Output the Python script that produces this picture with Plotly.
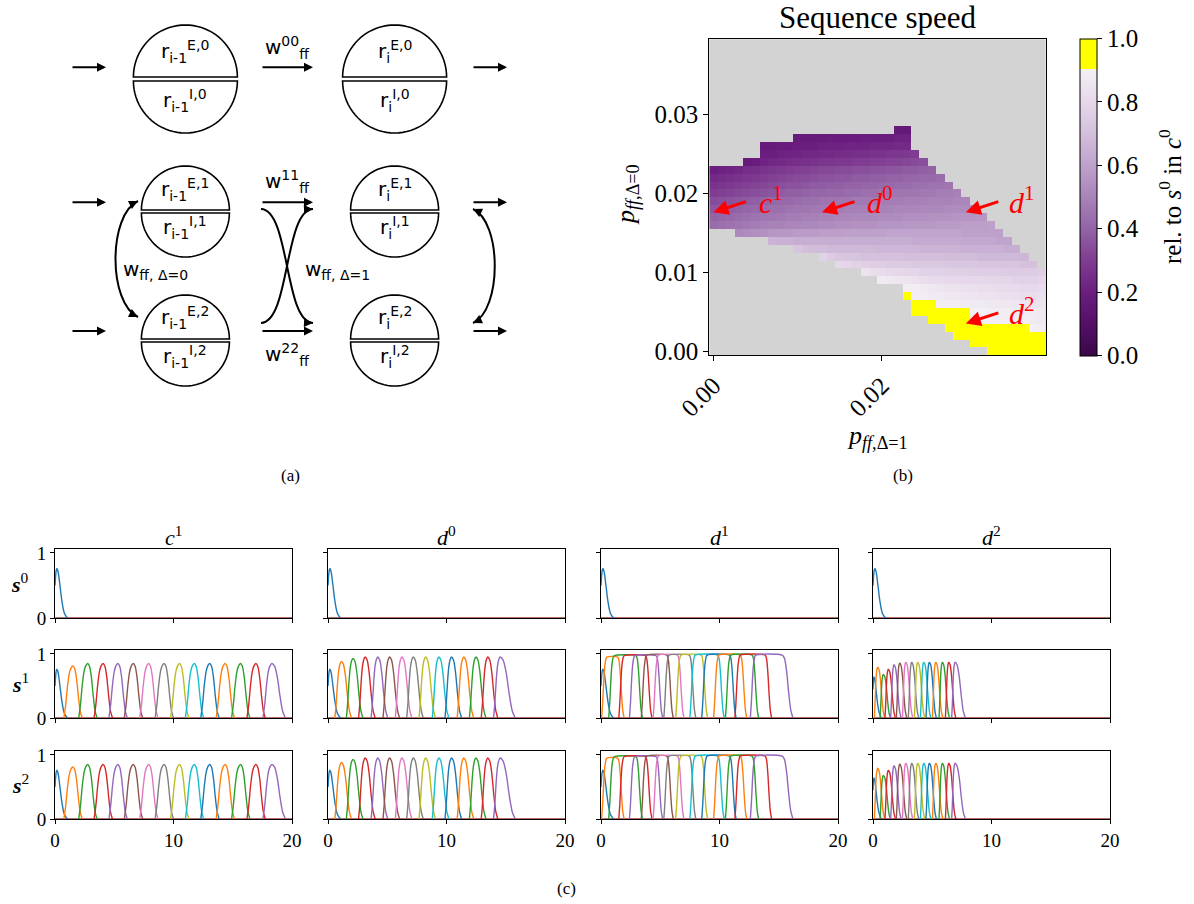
import plotly.graph_objects as go

W, H = 1194, 904
SERIF = "Liberation Serif"
SANS = "DejaVu Sans"
TAB10 = ['#1f77b4', '#ff7f0e', '#2ca02c', '#d62728', '#9467bd',
         '#8c564b', '#e377c2', '#7f7f7f', '#bcbd22', '#17becf']

# ---------------- (b) sequence speed map -----------------
GRID_N = 40          # 40 x 40 cells
GRID_STEP = 0.001    # p_ff step on both axes
# row index along p_ff,Δ=0 : (first column index along p_ff,Δ=1, values in % of s0 speed in c0)
SPEED_ROWS = {
    28: (22, [17, 17]),
    27: (10, [18, 18, 18, 18, 19, 19, 19, 19, 20, 20, 20, 20, 21, 21]),
    26: (6, [18, 18, 19, 19, 20, 20, 20, 21, 21, 21, 22, 22, 22, 23, 23, 23, 24, 24]),
    25: (6, [20, 20, 21, 22, 22, 23, 23, 24, 24, 25, 25, 26, 26, 27, 27, 28, 28, 29, 30]),
    24: (4, [18, 19, 22, 23, 24, 25, 26, 26, 27, 28, 28, 29, 29, 30, 30, 31, 31, 32, 32, 33, 34, 35]),
    23: (0, [20, 21, 22, 23, 25, 26, 27, 28, 29, 30, 31, 31, 32, 33, 33, 34, 34, 35, 35, 36, 36, 37, 37, 38, 38, 39, 40]),
    22: (0, [24, 25, 26, 27, 28, 29, 30, 31, 32, 33, 34, 34, 35, 36, 36, 37, 37, 38, 38, 39, 39, 40, 40, 41, 41, 42, 42, 43]),
    21: (0, [27, 28, 29, 30, 31, 32, 33, 34, 35, 36, 36, 37, 38, 38, 39, 39, 40, 40, 41, 41, 42, 42, 43, 43, 44, 44, 45, 45, 46]),
    20: (0, [30, 31, 32, 33, 34, 35, 36, 37, 38, 39, 39, 40, 41, 41, 42, 42, 43, 43, 44, 44, 45, 45, 46, 46, 46, 47, 47, 48, 48, 49]),
    19: (0, [34, 35, 36, 37, 38, 39, 40, 41, 42, 42, 43, 44, 44, 45, 45, 46, 46, 47, 47, 47, 48, 48, 48, 49, 49, 49, 50, 50, 50, 51, 51]),
    18: (0, [37, 38, 39, 40, 41, 42, 43, 44, 44, 45, 46, 46, 47, 47, 48, 48, 49, 49, 49, 50, 50, 50, 51, 51, 51, 52, 52, 52, 53, 53, 53, 54]),
    17: (0, [40, 41, 42, 43, 44, 45, 46, 46, 47, 48, 48, 49, 49, 50, 50, 51, 51, 52, 52, 52, 53, 53, 53, 54, 54, 54, 55, 55, 55, 56, 56, 56, 57]),
    16: (0, [43, 44, 45, 46, 47, 48, 49, 50, 50, 51, 51, 52, 52, 53, 53, 54, 54, 55, 55, 55, 56, 56, 56, 57, 57, 57, 57, 58, 58, 58, 59, 59, 59, 60]),
    15: (3, [52, 53, 54, 55, 56, 57, 57, 58, 58, 58, 59, 59, 59, 60, 60, 60, 60, 60, 61, 61, 61, 61, 61, 61, 61, 61, 61, 60, 60, 60, 60, 60]),
    14: (7, [66, 65, 65, 64, 64, 64, 64, 64, 64, 64, 64, 64, 64, 64, 64, 64, 64, 63, 63, 63, 63, 63, 63, 62, 62, 62, 62, 61, 61]),
    13: (10, [72, 70, 69, 69, 68, 68, 68, 68, 68, 68, 67, 67, 67, 67, 67, 66, 66, 66, 66, 66, 65, 65, 65, 65, 65, 64, 64]),
    12: (13, [78, 75, 73, 72, 72, 71, 71, 71, 71, 71, 70, 70, 70, 70, 70, 69, 69, 69, 69, 68, 68, 68, 68, 68, 67]),
    11: (15, [80, 79, 78, 77, 76, 76, 75, 75, 75, 74, 74, 74, 74, 73, 73, 73, 73, 72, 72, 72, 72, 72, 71, 71]),
    10: (18, [85, 83, 82, 81, 80, 79, 79, 78, 78, 78, 77, 77, 77, 76, 76, 76, 76, 75, 75, 75, 75, 76]),
    9: (20, [88, 87, 86, 85, 84, 83, 82, 82, 81, 81, 80, 80, 80, 79, 79, 79, 78, 78, 78, 79]),
    8: (23, [89, 89, 88, 87, 86, 85, 85, 84, 84, 83, 83, 82, 82, 82, 81, 81, 82]),
    7: (23, [100, 89, 89, 88, 88, 87, 87, 86, 86, 85, 85, 84, 84, 84, 83, 83, 84]),
    6: (24, [100, 100, 100, 89, 89, 89, 88, 88, 88, 87, 87, 87, 86, 86, 85, 85]),
    5: (24, [100, 100, 100, 100, 100, 100, 100, 90, 90, 89, 89, 89, 88, 88, 88, 87]),
    4: (26, [100, 100, 100, 100, 100, 90, 90, 90, 89, 89, 89, 89, 88, 87]),
    3: (28, [100, 100, 100, 100, 100, 100, 100, 100, 100, 100, 90, 89]),
    2: (29, [100, 100, 100, 100, 100, 100, 100, 100, 100, 100, 100]),
    1: (31, [100, 100, 100, 100, 100, 100, 100, 100, 100]),
    0: (33, [100, 100, 100, 100, 100, 100, 100]),
}
# marked parameter sets (p_ff,Δ=1 , p_ff,Δ=0)
MARK_NAMES = ['c1', 'd0', 'd1', 'd2']
MARK_X = [0.000, 0.0129, 0.030, 0.030]
MARK_Y = [0.0176, 0.0176, 0.0176, 0.0035]
MARK_TEXT = ['<i>c</i><sup>1</sup>', '<i>d</i><sup>0</sup>', '<i>d</i><sup>1</sup>', '<i>d</i><sup>2</sup>']

# ---------------- (c) activity traces -----------------
T_MAX = 20
# input (first) population
INPUT_T = [0.0, 0.05, 0.1, 0.16, 0.25, 0.35, 0.45, 0.6, 0.8, 1.05]
INPUT_V = [0.5, 0.64, 0.73, 0.76, 0.72, 0.6, 0.45, 0.24, 0.07, 0.0]
D2_INPUT_T = [0.0, 0.04, 0.08, 0.15, 0.25, 0.35, 0.5, 0.7]
D2_INPUT_V = [0.45, 0.6, 0.64, 0.6, 0.45, 0.28, 0.1, 0.0]
# shape of a rising / falling flank (fraction of flank time, fraction of height)
RISE_FRAC_T = [0.0, 0.2, 0.4, 0.6, 0.8, 1.0]
RISE_FRAC_V = [0.0, 0.25, 0.6, 0.85, 0.96, 1.0]
FALL_FRAC_T = [0.0, 0.2, 0.4, 0.6, 0.8, 1.0]
FALL_FRAC_V = [1.0, 0.95, 0.75, 0.4, 0.12, 0.0]

# populations 2..15: onset, top reached, top left, offset, height
C1_ON = [0.75, 2.0, 3.3, 4.55, 5.85, 7.15, 8.45, 9.75, 11.0, 12.3, 13.6, 14.9, 16.2, 17.55]
C1_UP = [1.5, 2.75, 4.05, 5.3, 6.6, 7.9, 9.2, 10.5, 11.75, 13.05, 14.35, 15.65, 16.95, 18.3]
C1_DOWN = C1_UP
C1_OFF = [2.3, 3.55, 4.85, 6.1, 7.4, 8.7, 10.0, 11.3, 12.55, 13.85, 15.15, 16.45, 17.75, 19.45]
C1_H = [0.81, 0.85, 0.85, 0.85, 0.85, 0.85, 0.85, 0.85, 0.85, 0.85, 0.85, 0.85, 0.85, 0.85]

D0_ON = [0.58, 1.55, 2.58, 3.64, 4.64, 5.68, 6.64, 7.68, 8.8, 9.87, 10.9, 11.93, 12.93, 13.97]
D0_UP = [1.13, 2.1, 3.13, 4.19, 5.19, 6.23, 7.19, 8.23, 9.35, 10.42, 11.45, 12.48, 13.48, 14.52]
D0_DOWN = D0_UP
D0_OFF = [1.98, 2.95, 3.98, 5.04, 6.04, 7.08, 8.04, 9.08, 10.2, 11.27, 12.3, 13.33, 14.33, 15.8]
D0_H = [0.88, 0.93, 0.95, 0.95, 0.95, 0.95, 0.95, 0.95, 0.95, 0.95, 0.95, 0.95, 0.95, 0.95]

D1_ON = [0.05, 0.65, 1.5, 2.4, 3.4, 4.4, 5.3, 6.3, 7.5, 8.5, 9.5, 10.5, 11.3, 12.6]
D1_UP = [0.5, 1.1, 1.95, 2.85, 3.85, 4.85, 5.75, 6.75, 7.95, 8.95, 9.95, 10.95, 11.75, 13.05]
D1_DOWN = [1.4, 2.95, 3.75, 4.65, 5.55, 6.45, 7.45, 8.45, 9.85, 10.85, 11.75, 12.75, 13.85, 15.3]
D1_OFF = [1.95, 3.5, 4.3, 5.2, 6.1, 7.0, 8.0, 9.0, 10.4, 11.4, 12.3, 13.3, 14.4, 16.2]
D1_H = [0.95, 0.97, 0.97, 0.97, 0.98, 0.98, 0.98, 0.98, 0.98, 0.98, 0.98, 0.98, 0.98, 0.98]

D2_ON = [0.11, 0.59, 1.01, 1.49, 1.97, 2.48, 2.98, 3.49, 4.0, 4.47, 5.01, 5.57, 6.11, 6.64]
D2_UP = [0.39, 0.87, 1.29, 1.77, 2.25, 2.76, 3.26, 3.77, 4.28, 4.75, 5.29, 5.85, 6.39, 6.92]
D2_DOWN = D2_UP
D2_OFF = [0.99, 1.47, 1.89, 2.37, 2.85, 3.36, 3.86, 4.37, 4.88, 5.35, 5.89, 6.45, 6.99, 7.8]
D2_H = [0.79, 0.68, 0.76, 0.83, 0.86, 0.87, 0.87, 0.87, 0.87, 0.87, 0.87, 0.87, 0.87, 0.87]

COND_TITLES = ['<i>c</i><sup>1</sup>', '<i>d</i><sup>0</sup>', '<i>d</i><sup>1</sup>', '<i>d</i><sup>2</sup>']
ROW_TITLES = ['<b><i>s</i></b><sup>0</sup>', '<b><i>s</i></b><sup>1</sup>', '<b><i>s</i></b><sup>2</sup>']
CONDS = [
    (INPUT_T, INPUT_V, C1_ON, C1_UP, C1_DOWN, C1_OFF, C1_H),
    (INPUT_T, INPUT_V, D0_ON, D0_UP, D0_DOWN, D0_OFF, D0_H),
    (INPUT_T, INPUT_V, D1_ON, D1_UP, D1_DOWN, D1_OFF, D1_H),
    (D2_INPUT_T, D2_INPUT_V, D2_ON, D2_UP, D2_DOWN, D2_OFF, D2_H),
]

# ---------------------------------------------------------------------------
def PX(x):
    return x / W


def PY(y):
    return 1 - y / H


def pulse_xy(on, up, down, off, h):
    xs, ys = [], []
    for ft, fv in zip(RISE_FRAC_T, RISE_FRAC_V):
        xs.append(on + ft * (up - on))
        ys.append(h * fv)
    for i, (ft, fv) in enumerate(zip(FALL_FRAC_T, FALL_FRAC_V)):
        if i == 0 and down <= up:
            continue
        xs.append(down + ft * (off - down))
        ys.append(h * fv)
    return xs, ys


fig = go.Figure()

# heat map
z = [[None] * GRID_N for _ in range(GRID_N)]
for j, (start, vals) in SPEED_ROWS.items():
    for k, v in enumerate(vals):
        z[j][start + k] = v / 100.0

CSCALE = [[0.0, '#3a0749'], [0.1, '#530f66'], [0.2, '#6b1e7f'], [0.3, '#7f3c91'],
          [0.4, '#9363a6'], [0.5, '#a883b8'], [0.6, '#bea1cb'], [0.7, '#d3bfdc'],
          [0.8, '#e6d7ea'], [0.905, '#f3f1f4'], [0.906, '#ffff00'], [1.0, '#ffff00']]

fig.add_trace(go.Heatmap(
    z=z, x0=0, dx=GRID_STEP, y0=0, dy=GRID_STEP, zmin=0, zmax=1,
    colorscale=CSCALE, xaxis='x', yaxis='y', hoverongaps=False,
    colorbar=dict(x=PX(1080), xanchor='left', y=PY(38.5), yanchor='top',
                  len=316.5 / H, lenmode='fraction', thickness=17,
                  xpad=0, ypad=0, outlinecolor='black', outlinewidth=1,
                  ticks='outside', ticklen=5, tickcolor='black',
                  tickvals=[0, 0.2, 0.4, 0.6, 0.8, 1.0],
                  ticktext=['0.0', '0.2', '0.4', '0.6', '0.8', '1.0'],
                  tickfont=dict(family=SERIF, size=25, color='black')),
))

# small multiples
COL_PX = [(55, 292), (328, 565), (601, 838), (873, 1110)]
ROW_PX = [(549, 618), (650, 718), (751, 819)]
layout_axes = {}
n = 2
for r, (ytop, ybot) in enumerate(ROW_PX):
    for c, (xl, xr) in enumerate(COL_PX):
        xa, ya = f'x{n}', f'y{n}'
        in_t, in_v, on, up, down, off, hh = CONDS[c]
        if r == 0:
            in_t, in_v = INPUT_T, INPUT_V
        # baseline of silent populations
        fig.add_trace(go.Scatter(x=[0, T_MAX], y=[0, 0], mode='lines',
                                 line=dict(color='#9d3c36', width=1.5),
                                 xaxis=xa, yaxis=ya, showlegend=False, hoverinfo='skip'))
        fig.add_trace(go.Scatter(x=in_t, y=in_v,
                                 mode='lines', line=dict(color=TAB10[0], width=1.4, shape='spline'),
                                 xaxis=xa, yaxis=ya, showlegend=False, hoverinfo='skip'))
        if r > 0:
            for k in range(len(on)):
                px_, py_ = pulse_xy(on[k], up[k], down[k], off[k], hh[k])
                fig.add_trace(go.Scatter(x=px_, y=py_, mode='lines',
                                         line=dict(color=TAB10[(k + 1) % 10], width=1.4,
                                                   shape='spline', smoothing=0.8),
                                         xaxis=xa, yaxis=ya, showlegend=False, hoverinfo='skip'))
        layout_axes['xaxis' + str(n)] = dict(
            domain=[PX(xl), PX(xr)], anchor=ya, range=[0, T_MAX], automargin=False,
            tickvals=[0, 10, 20], ticktext=['0', '10', '20'],
            showticklabels=(r == 2), ticks='outside', ticklen=4, tickcolor='black',
            showline=True, mirror=True, linecolor='black', linewidth=1,
            showgrid=False, zeroline=False,
            tickfont=dict(family=SERIF, size=19, color='black'))
        layout_axes['yaxis' + str(n)] = dict(
            domain=[PY(ybot), PY(ytop)], anchor=xa, range=[0, 1.06], automargin=False,
            tickvals=[0, 1], ticktext=['0', '1'],
            showticklabels=(c == 0), ticks='outside', ticklen=4, tickcolor='black',
            showline=True, mirror=True, linecolor='black', linewidth=1,
            showgrid=False, zeroline=False,
            tickfont=dict(family=SERIF, size=19, color='black'))
        n += 1

# ---------------------------------------------------------------------------
ann = []


def text(x, y, s, size, family=SERIF, color='black', angle=0, xanchor='center', yanchor='middle'):
    ann.append(dict(x=PX(x), y=PY(y), xref='paper', yref='paper', text=s, showarrow=False,
                    font=dict(family=family, size=size, color=color), textangle=angle,
                    xanchor=xanchor, yanchor=yanchor))


def arrow(xh, yh, xt, yt, width=2, size=0.9, head=2, color='black'):
    ann.append(dict(x=PX(xh), y=PY(yh), xref='paper', yref='paper', ax=xt - xh, ay=yt - yh,
                    showarrow=True, text='', arrowhead=head, arrowsize=size,
                    arrowwidth=width, arrowcolor=color))


# heat-map texts
text(877.5, 18, 'Sequence speed', 31)
text(627, 195, '<i>p</i><sub><i>ff</i>,Δ=0</sub>', 26, angle=-90)
text(877, 437, '<i>p</i><sub><i>ff</i>,Δ=1</sub>', 26)
text(1170, 197, 'rel. to <i>s</i><sup>0</sup> in <i>c</i><sup>0</sup>', 25, angle=-90)
LABEL_PX = [(771, 200), (880, 200), (1022, 200), (1022, 311)]
for i in range(4):
    ann.append(dict(x=MARK_X[i], y=MARK_Y[i], xref='x', yref='y', ax=34, ay=-11,
                    showarrow=True, text='', arrowhead=2, arrowsize=1, arrowwidth=3,
                    arrowcolor='#ff0000'))
    text(LABEL_PX[i][0], LABEL_PX[i][1], MARK_TEXT[i], 30, color='#ff0000')

# panel labels
text(290, 475, '(a)', 17)
text(903, 475, '(b)', 17)
text(566, 888, '(c)', 17)
for c, (xl, xr) in enumerate(COL_PX):
    text((xl + xr) / 2, 536, COND_TITLES[c], 22)
for r, (ytop, ybot) in enumerate(ROW_PX):
    text(20, (ytop + ybot) / 2 - 1, ROW_TITLES[r], 22)

# ---------------- (a) network sketch -----------------
shapes = []
shapes.append(dict(type='rect', xref='x domain', yref='y domain', x0=0, x1=1, y0=0, y1=1,
                   fillcolor='#d3d3d3', line=dict(width=0), layer='below'))


def half_disc(cx, yflat, r, upper):
    import math
    pts = []
    for i in range(41):
        th = math.pi * (1 - i / 40)
        x = cx + r * math.cos(th)
        y = yflat - r * math.sin(th) if upper else yflat + r * math.sin(th)
        pts.append(f'{PX(x):.5f},{PY(y):.5f}')
    path = 'M ' + ' L '.join(pts) + ' Z'
    shapes.append(dict(type='path', xref='paper', yref='paper', path=path,
                       line=dict(color='black', width=1.6)))


def bezier(p0, p1, p2, p3):
    path = (f'M {PX(p0[0]):.5f},{PY(p0[1]):.5f} C {PX(p1[0]):.5f},{PY(p1[1]):.5f} '
            f'{PX(p2[0]):.5f},{PY(p2[1]):.5f} {PX(p3[0]):.5f},{PY(p3[1]):.5f}')
    shapes.append(dict(type='path', xref='paper', yref='paper', path=path,
                       line=dict(color='black', width=2)))


CIRCLES = [  # (flat line of upper half, flat line of lower half, radius, centre-y of texts, suffix)
    (77, 81, 52, (52, 100), '0'),
    (210, 213, 44, (189, 227), '1'),
    (339, 342, 44, (317, 356), '2'),
]
for yu, yl, rr, (tu, tl), sfx in CIRCLES:
    for cx, sub in ((185.4, 'i-1'), (394.6, 'i')):
        half_disc(cx, yu, rr, True)
        half_disc(cx, yl, rr, False)
        text(cx, tu, f'r<sub>{sub}</sub><sup>E,{sfx}</sup>', 20, family=SANS)
        text(cx, tl, f'r<sub>{sub}</sub><sup>I,{sfx}</sup>', 20, family=SANS)

for yy in (67.3, 202.3, 331):
    arrow(106, yy, 71, yy)
    arrow(313, yy, 261, yy)
    arrow(507, yy, 472, yy)

text(287, 48, 'w<sup>00</sup><sub>ff</sub>', 20, family=SANS)
text(287, 181, 'w<sup>11</sup><sub>ff</sub>', 20, family=SANS)
text(287, 354, 'w<sup>22</sup><sub>ff</sub>', 20, family=SANS)
text(121, 270, 'w<sub>ff, Δ=0</sub>', 20, family=SANS, xanchor='left')
text(303, 270, 'w<sub>ff, Δ=1</sub>', 20, family=SANS, xanchor='left')

# curved connections
bezier((138, 201), (108, 215), (108, 303), (138, 317))
arrow(138, 201, 131, 204.4)
arrow(138, 317, 131, 313.6)
bezier((261, 209), (290, 210), (284, 322), (313, 323))
arrow(313, 323, 305, 322.6)
bezier((261, 323), (290, 322), (284, 210), (313, 209))
arrow(313, 209, 305, 209.4)
bezier((473, 209), (502, 222), (502, 310), (473, 323))
arrow(473, 209, 480, 212.3)
arrow(473, 323, 480, 319.7)

fig.update_layout(
    width=W, height=H, margin=dict(l=0, r=0, t=0, b=0, pad=0, autoexpand=False),
    paper_bgcolor='white', plot_bgcolor='white', showlegend=False,
    xaxis=dict(domain=[PX(709.3), PX(1045.7)], anchor='y', range=[-0.0005, 0.0395],
               automargin=False,
               tickvals=[0, 0.02], ticktext=['0.00', '0.02'], tickangle=-45,
               ticks='outside', ticklen=5, tickcolor='black',
               showline=True, mirror=True, linecolor='black', linewidth=1,
               showgrid=False, zeroline=False,
               tickfont=dict(family=SERIF, size=25, color='black')),
    yaxis=dict(domain=[PY(355), PY(39.3)], anchor='x', range=[-0.0005, 0.0395],
               automargin=False,
               tickvals=[0, 0.01, 0.02, 0.03], ticktext=['0.00', '0.01', '0.02', '0.03'],
               ticks='outside', ticklen=5, tickcolor='black',
               showline=True, mirror=True, linecolor='black', linewidth=1,
               showgrid=False, zeroline=False,
               tickfont=dict(family=SERIF, size=25, color='black')),
    annotations=ann, shapes=shapes,
    **layout_axes,
)

fig.write_html("out.html", config={'displayModeBar': False},
               post_script="document.body.style.margin='0px';")
